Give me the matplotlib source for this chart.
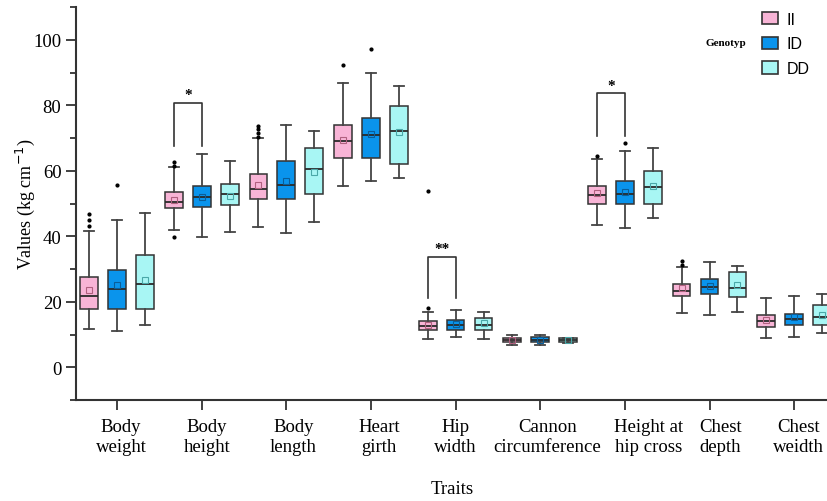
import numpy as np
import matplotlib
matplotlib.use("Agg")
import matplotlib.pyplot as plt
from matplotlib.patches import Patch
from matplotlib.transforms import ScaledTranslation

# ── data ──────────────────────────────────────────────────────────────────────
traits = ["Body\nweight", "Body\nheight", "Body\nlength", "Heart\ngirth", "Hip\nwidth",
          "Cannon\ncircumference", "Height at\nhip cross", "Chest\ndepth", "Chest\nweidth"]
genotypes = ["II", "ID", "DD"]

ii_lo   = [11.8, 42.0, 42.9, 55.4, 8.5, 6.8, 43.4, 16.7, 9.0]
ii_q1   = [17.7, 48.5, 51.3, 63.9, 11.4, 7.7, 49.9, 21.8, 12.3]
ii_med  = [21.9, 50.5, 54.4, 69.0, 12.5, 8.3, 52.5, 23.4, 14.1]
ii_q3   = [27.7, 53.4, 58.9, 74.0, 14.0, 9.0, 55.4, 25.5, 16.0]
ii_hi   = [41.7, 61.0, 70.0, 86.9, 16.9, 9.9, 63.6, 30.7, 21.0]
ii_mean = [23.5, 51.0, 55.7, 69.5, 13.0, 8.4, 53.2, 24.1, 14.5]
ii_out  = [[43.0, 45.0, 46.8], [39.7, 61.6, 62.8], [70.4, 71.5, 72.8, 73.8], [92.2],
           [18.0, 53.7], [], [64.4], [31.3, 32.4], []]

id_lo   = [11.0, 39.9, 40.9, 56.9, 9.3, 6.8, 42.4, 16.0, 9.3]
id_q1   = [17.7, 48.8, 51.4, 63.9, 11.5, 7.8, 49.9, 22.4, 12.8]
id_med  = [23.9, 52.0, 55.7, 70.9, 13.0, 8.4, 53.0, 24.6, 14.7]
id_q3   = [29.8, 55.3, 62.9, 76.0, 14.4, 9.1, 56.9, 26.9, 16.4]
id_hi   = [45.0, 65.0, 74.0, 90.0, 17.4, 10.0, 65.9, 32.2, 21.8]
id_mean = [25.1, 52.0, 57.0, 71.1, 13.2, 8.4, 53.6, 24.9, 15.4]
id_out  = [[55.7], [], [], [97.2], [], [], [68.5], [], []]

dd_lo   = [12.8, 41.4, 44.5, 57.9, 8.5, 7.5, 45.5, 16.9, 10.4]
dd_q1   = [17.7, 49.4, 52.8, 62.1, 11.4, 7.8, 49.9, 21.4, 12.8]
dd_med  = [25.5, 52.9, 60.5, 72.0, 13.0, 8.3, 55.0, 24.1, 15.2]
dd_q3   = [34.3, 56.0, 66.9, 79.9, 15.0, 8.9, 59.9, 29.0, 19.0]
dd_hi   = [47.0, 62.9, 72.0, 86.0, 16.9, 9.0, 66.9, 30.9, 22.5]
dd_mean = [26.6, 52.4, 59.6, 71.8, 13.4, 8.3, 55.3, 25.2, 16.0]
dd_out  = [[], [], [], [], [], [], [], [], []]

# significance brackets: trait index, bracket top, leg bottom, label
sig_trait  = [1, 4, 6]
sig_top    = [80.8, 33.8, 83.6]
sig_bottom = [67.7, 21.0, 70.7]
sig_label  = ["*", "**", "*"]

colors = ["#F8B4D6", "#0A94EC", "#A8F6F4"]
mean_edge = ["#B0607F", "#0A5E9A", "#4AA8A8"]

plt.rcParams["font.family"] = ["Liberation Serif", "DejaVu Serif"]

fig = plt.figure(figsize=(8.28, 5.02), dpi=100)
ax = fig.add_axes([0.0918, 0.2012, 0.9082, 0.7828])

groups = [
    (ii_lo, ii_q1, ii_med, ii_q3, ii_hi, ii_mean, ii_out),
    (id_lo, id_q1, id_med, id_q3, id_hi, id_mean, id_out),
    (dd_lo, dd_q1, dd_med, dd_q3, dd_hi, dd_mean, dd_out),
]
offsets = [-0.33, 0.0, 0.33]
centers = np.arange(1, len(traits) + 1)

for g, (lo, q1, med, q3, hi, mn, out) in enumerate(groups):
    stats = []
    for i in range(len(traits)):
        stats.append(dict(whislo=lo[i], q1=q1[i], med=med[i], q3=q3[i],
                          whishi=hi[i], mean=mn[i], fliers=np.array(out[i])))
    ax.bxp(stats, positions=centers + offsets[g], widths=0.21,
           patch_artist=True, showmeans=True, showfliers=True, manage_ticks=False,
           boxprops=dict(facecolor=colors[g], edgecolor="#333333", linewidth=1.1),
           medianprops=dict(color="#2a2a2a", linewidth=1.3),
           whiskerprops=dict(color="#444444", linewidth=1.3),
           capprops=dict(color="#444444", linewidth=1.3),
           capwidths=0.12,
           meanprops=dict(marker="s", markersize=4, markerfacecolor="none",
                          markeredgecolor=mean_edge[g], markeredgewidth=0.8),
           flierprops=dict(marker="o", markersize=2.0, markerfacecolor="black",
                           markeredgecolor="black"))

# brackets between II and ID
for t, top, bot, lab in zip(sig_trait, sig_top, sig_bottom, sig_label):
    x0 = centers[t] + offsets[0]
    x1 = centers[t] + offsets[1]
    ax.plot([x0, x0, x1, x1], [bot, top, top, bot], color="#333333", lw=1.2)
    ax.text((x0 + x1) / 2, top + 0.6, lab, ha="center", va="bottom",
            fontsize=11, fontweight="bold")

ax.set_xlim(0.515, 9.4)
ax.set_ylim(-10, 110)
ax.set_yticks([0, 20, 40, 60, 80, 100])
ax.set_yticks([-10, 10, 30, 50, 70, 90, 110], minor=True)
ax.set_xticks(centers)
ax.tick_params(axis="y", labelsize=13.5, length=7, width=1.3, color="#333333")
ax.tick_params(axis="y", which="minor", length=4, width=1.3, color="#333333")
ax.tick_params(axis="x", length=7, width=1.3, color="#333333", pad=6)
ax.set_xticklabels(traits, fontsize=13.5, linespacing=1.25)

# small horizontal nudges of the trait labels (pixels), as in the original
label_shift = [4, 5, 7, 8, 0, 7, 24, 11, 4]
for lab, dx in zip(ax.get_xticklabels(), label_shift):
    lab.set_transform(lab.get_transform() + ScaledTranslation(dx / 100, 0, fig.dpi_scale_trans))

for s in ["top", "right"]:
    ax.spines[s].set_visible(False)
for s in ["left", "bottom"]:
    ax.spines[s].set_linewidth(1.5)
    ax.spines[s].set_color("#333333")

ax.set_ylabel("Values (kg cm$^{-1}$)", fontsize=13, labelpad=-3)
ax.set_xlabel("Traits", fontsize=13.5, labelpad=18)

handles = [Patch(facecolor=c, edgecolor="#333333", linewidth=1.2) for c in colors]
leg = ax.legend(handles, genotypes, loc="upper right", bbox_to_anchor=(0.995, 1.025),
                frameon=False, prop=dict(family="Liberation Sans", size=11.5),
                handlelength=1.0, handleheight=0.85, labelspacing=0.62, handletextpad=0.55)
fig.text(0.852, 0.914, "Genotyp", fontsize=8, fontweight="bold", ha="left", va="center")

fig.savefig("out.png", dpi=100)
